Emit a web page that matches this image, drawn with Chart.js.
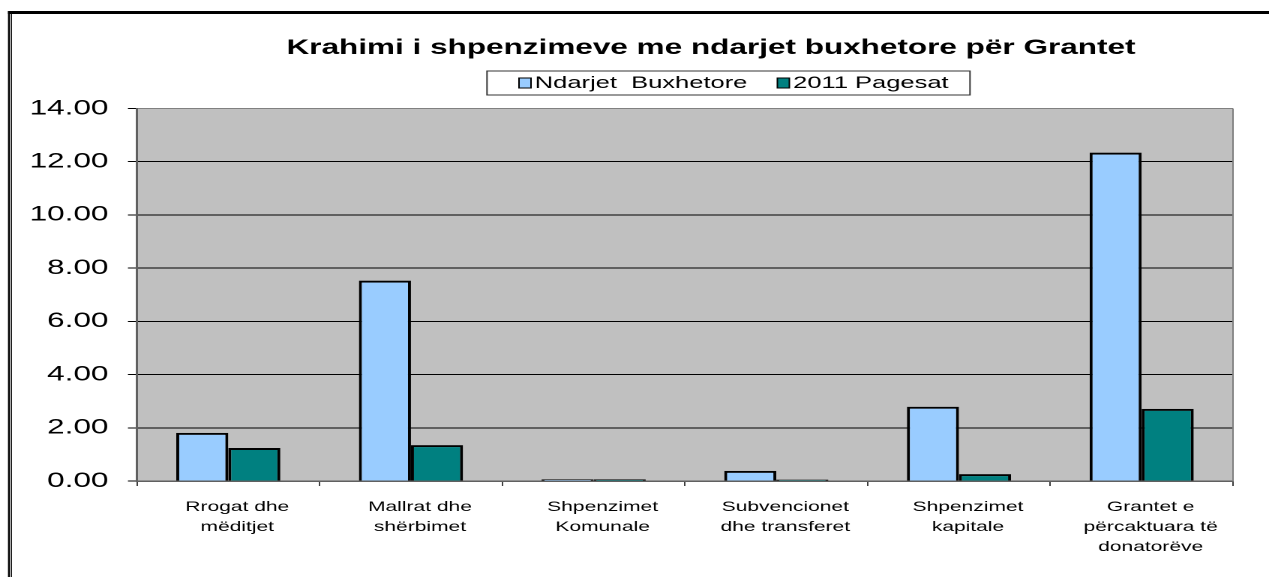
<!DOCTYPE html>
<html>
<head>
<meta charset="utf-8">
<script src="https://cdn.jsdelivr.net/npm/chart.js@4"></script>
<style>
  html, body { margin: 0; padding: 0; background: #fff; }
  /* the source picture is stretched sideways, so the chart is drawn narrow and widened */
  #wrap { position: absolute; left: 0; top: 0; width: 846px; height: 577px; transform: scaleX(1.5); transform-origin: 0 0; }
</style>
</head>
<body>
<div id="wrap"><canvas id="bar-chart"></canvas></div>
<script>
const STRETCH = 1.5;

const categories = [
  ["Rrogat dhe", "mëditjet"],
  ["Mallrat dhe", "shërbimet"],
  ["Shpenzimet", "Komunale"],
  ["Subvencionet", "dhe transferet"],
  ["Shpenzimet", "kapitale"],
  ["Grantet e", "përcaktuara të", "donatorëve"],
];
const ndarjetBuxhetore = [1.81, 7.53, 0.06, 0.38, 2.79, 12.34];
const pagesat2011 = [1.24, 1.35, 0.06, 0.05, 0.26, 2.71];
const yTicks = [0, 2, 4, 6, 8, 10, 12, 14];
const seriesNames = ["Ndarjet  Buxhetore", "2011 Pagesat"];
const titleText = "Krahimi i shpenzimeve me ndarjet buxhetore për Grantet";

const FONT = "'Liberation Sans', Arial, sans-serif";
Chart.defaults.font.family = FONT;
Chart.defaults.color = "#000";

// grey plot area, frame, title and boxed legend
const excelLook = {
  id: "excelLook",
  beforeDraw(chart) {
    const { ctx, chartArea: a } = chart;
    ctx.save();
    ctx.fillStyle = "#c0c0c0";
    ctx.fillRect(a.left, a.top, a.right - a.left, a.bottom - a.top);
    ctx.restore();
  },
  afterDraw(chart) {
    const { ctx, chartArea: a, width, height } = chart;
    ctx.save();

    ctx.strokeStyle = "#808080";
    ctx.lineWidth = 1;
    ctx.beginPath();
    ctx.moveTo(a.right, a.top);
    ctx.lineTo(a.right, a.bottom);
    ctx.stroke();

    // outer frame
    ctx.fillStyle = "#000";
    ctx.fillRect(8 / STRETCH, 11, width, 3);
    ctx.fillRect(8 / STRETCH, 11, 2 / STRETCH, height - 11);
    ctx.fillRect(11 / STRETCH, 14, 1 / STRETCH, height - 14);

    // title
    ctx.font = "bold 21px " + FONT;
    ctx.textAlign = "center";
    ctx.textBaseline = "alphabetic";
    ctx.fillText(titleText, 711 / STRETCH, 54);

    // legend
    const boxL = 487 / STRETCH, boxR = 970 / STRETCH, boxT = 71, boxB = 95;
    ctx.fillStyle = "#fff";
    ctx.fillRect(boxL, boxT, boxR - boxL, boxB - boxT);
    ctx.strokeStyle = "#333";
    ctx.lineWidth = 1;
    ctx.strokeRect(boxL, boxT, boxR - boxL, boxB - boxT);

    ctx.font = "17px " + FONT;
    ctx.textAlign = "left";
    ctx.textBaseline = "middle";
    let x = 519 / STRETCH;
    chart.data.datasets.forEach(ds => {
      ctx.fillStyle = ds.backgroundColor;
      ctx.fillRect(x, 78, 8, 10);
      ctx.strokeStyle = "#000";
      ctx.lineWidth = 1;
      ctx.strokeRect(x, 78, 8, 10);
      ctx.fillStyle = "#000";
      ctx.fillText(ds.label, x + 10.5, 83.5);
      x += 10.5 + ctx.measureText(ds.label).width + 20;
    });
    ctx.restore();
  }
};

const data = {
  labels: categories,
  datasets: [
    {
      label: seriesNames[0],
      data: ndarjetBuxhetore,
      backgroundColor: "#99ccff",
      borderColor: "#000",
      borderWidth: 2,
    },
    {
      label: seriesNames[1],
      data: pagesat2011,
      backgroundColor: "#008080",
      borderColor: "#000",
      borderWidth: 2,
    },
  ],
};

const config = {
  type: "bar",
  data: data,
  plugins: [excelLook],
  options: {
    responsive: true,
    maintainAspectRatio: false,
    devicePixelRatio: 2,
    animation: false,
    categoryPercentage: 0.57,
    barPercentage: 1,
    layout: { padding: { top: 108.5, right: 24, left: 0, bottom: 0 } },
    plugins: {
      legend: { display: false },
      title: { display: false },
      tooltip: { enabled: false },
    },
    scales: {
      x: {
        offset: true,
        grid: { display: true, drawOnChartArea: false, drawTicks: true, tickLength: 5, tickColor: "#404040" },
        border: { color: "#606060", width: 1.5 },
        ticks: { font: { size: 14, lineHeight: 20 / 14 }, padding: 11, labelOffset: 6, maxRotation: 0, autoSkip: false },
        afterFit(scale) { scale.height = 96; },
      },
      y: {
        min: 0,
        max: 14,
        afterBuildTicks(scale) { scale.ticks = yTicks.map(v => ({ value: v })); },
        grid: {
          color: c => (c.tick && c.tick.value === 14 ? "#808080" : "#000"),
          lineWidth: 1,
          tickLength: 6,
          tickColor: "#000",
        },
        border: { color: "#606060", width: 1.5 },
        ticks: { callback: v => v.toFixed(2), font: { size: 21 }, padding: 13 },
        afterFit(scale) { scale.width = 91.3; },
      },
    },
  },
};

var ctx = document.getElementById("bar-chart").getContext("2d");
var myChart = new Chart(ctx, config);
</script>
</body>
</html>
